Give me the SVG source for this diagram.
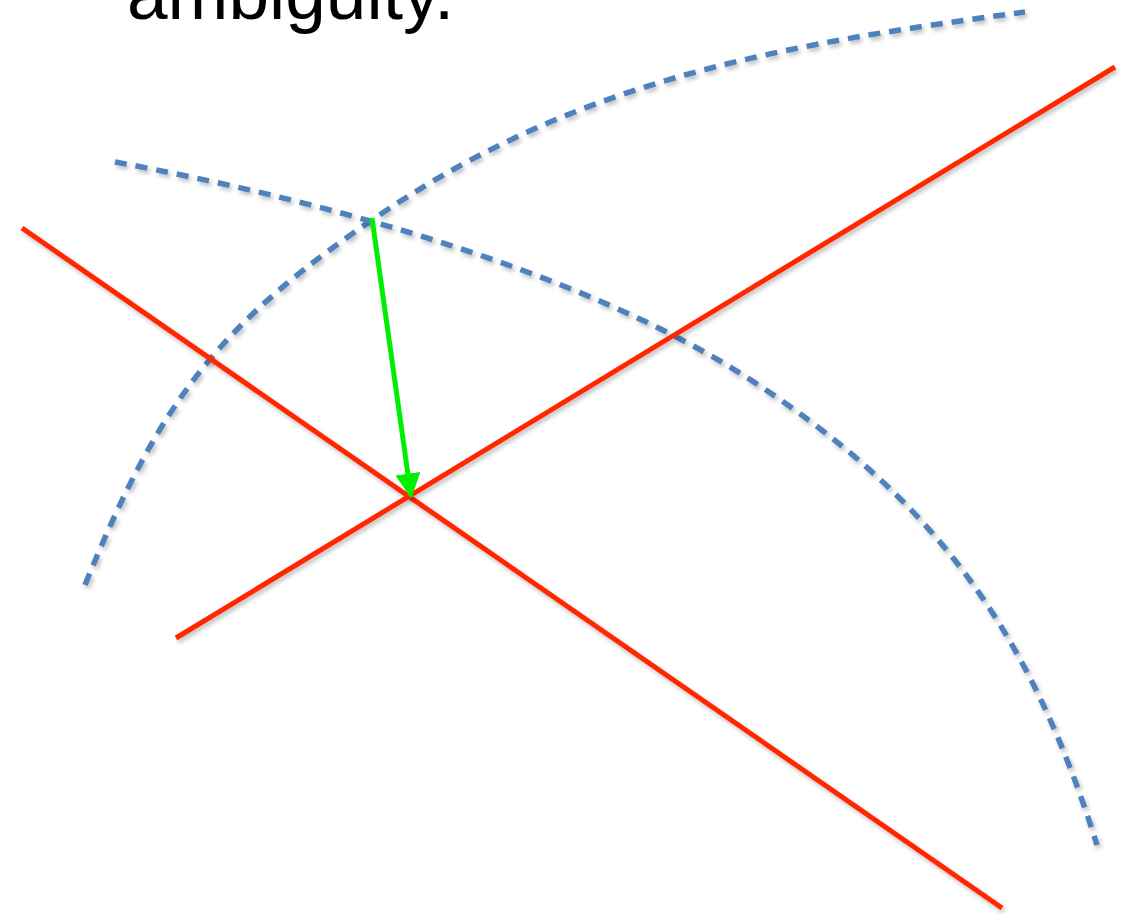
<svg xmlns="http://www.w3.org/2000/svg" width="1137" height="914" viewBox="0 0 1137 914">
  <defs>
    <filter id="shadow" x="-10%" y="-10%" width="120%" height="120%">
      <feDropShadow dx="2" dy="3" stdDeviation="2" flood-color="#000" flood-opacity="0.25"/>
    </filter>
    <marker id="arrowGreen" viewBox="0 0 10 10" refX="9" refY="5" markerWidth="5" markerHeight="5" markerUnits="strokeWidth" orient="auto">
      <path d="M0,0 L10,5 L0,10 Z" fill="#00EE00"/>
    </marker>
  </defs>
  <style>
    .arc { fill: none; stroke: #4F81BD; stroke-width: 5.5; stroke-dasharray: 12 9; filter: url(#shadow); }
    .red { fill: none; stroke: #FF2600; stroke-width: 5; filter: url(#shadow); }
    .green { fill: none; stroke: #00EE00; stroke-width: 5; }
    .title { font-family: "Liberation Sans", Arial, sans-serif; font-size: 73px; fill: #000; }
  </style>
  <rect width="1137" height="914" fill="#fff"/>
  <g id="title">
    <text class="title" x="127" y="19">ambiguity.</text>
  </g>
  <g id="arcs">
    <path id="arc1" class="arc" d="M85,585 C160,400 220,321 387,210 C587,77 787,44 1025,12"/>
    <path id="arc2" class="arc" d="M115,162 C312,198 574,268 743,375 C933,496 1029.5,630 1097,845"/>
  </g>
  <g id="connectors">
    <line id="line1" class="red" x1="22" y1="228" x2="1002" y2="908"/>
    <line id="line2" class="red" x1="176" y1="638" x2="1115" y2="67"/>
    <line id="arrow" class="green" x1="372" y1="218" x2="411" y2="496" marker-end="url(#arrowGreen)"/>
  </g>
</svg>
